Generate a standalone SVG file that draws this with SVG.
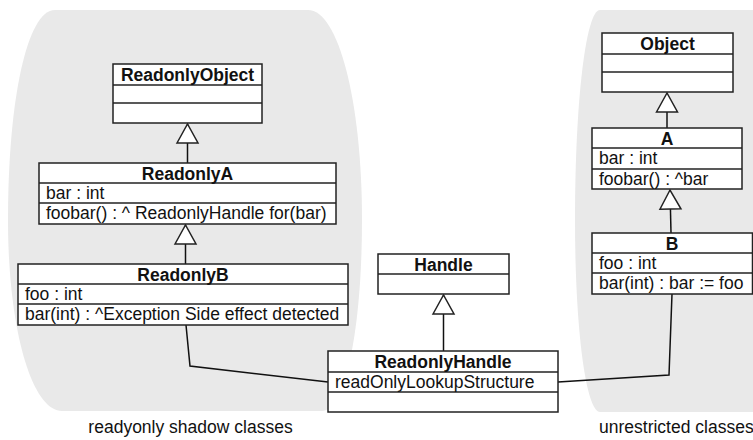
<svg xmlns="http://www.w3.org/2000/svg" width="753" height="440" viewBox="0 0 753 440">
<style>
.blob{fill:#e9e9e9;stroke:none}
.box{fill:#fff;stroke:#222;stroke-width:1.5}
.sep{stroke:#222;stroke-width:1.5}
.conn{fill:none;stroke:#111;stroke-width:1.5}
.hd{font-family:"Liberation Sans",Arial,Helvetica,sans-serif;font-size:17.5px;font-weight:bold;fill:#111;text-anchor:middle}
.tx{font-family:"Liberation Sans",Arial,Helvetica,sans-serif;font-size:17.5px;fill:#111}
.lbl{font-family:"Liberation Sans",Arial,Helvetica,sans-serif;font-size:17.5px;fill:#111}
</style>
<defs>
<marker id="gen" viewBox="0 0 19 21" refX="19" refY="10.5" markerWidth="19" markerHeight="21" markerUnits="userSpaceOnUse" orient="auto" overflow="visible">
<path d="M0,0 L19,10.5 L0,21 Z" fill="#fff" stroke="#222" stroke-width="1.5"/>
</marker>
</defs>

<g id="groups">
<path class="blob" d="M55,10 L308,10 C338,10 362,100 362,220 C362,330 345,411 322,411 L62,411 C32,411 8,330 8,220 C8,100 27,10 55,10 Z"/>
<path class="blob" d="M600,10 L760,10 L760,412 L600,412 C586,412 575,330 575,220 C575,100 586,10 600,10 Z"/>
<text class="lbl" x="190.5" y="433" text-anchor="middle">readyonly shadow classes</text>
<text class="lbl" x="599" y="433">unrestricted classes</text>
</g>

<g id="connectors">
<path class="conn" d="M187.5,163 L187.5,124" marker-end="url(#gen)"/>
<path class="conn" d="M185.5,264 L185.5,225" marker-end="url(#gen)"/>
<path class="conn" d="M443.5,351 L443.5,295" marker-end="url(#gen)"/>
<path class="conn" d="M667,128 L667,93" marker-end="url(#gen)"/>
<path class="conn" d="M671,233 L670,190" marker-end="url(#gen)"/>
<path class="conn" d="M186,325 L190,366 L328,382"/>
<path class="conn" d="M558,382 L669,375 L672,294"/>
</g>

<g id="ReadonlyObject">
<rect class="box" x="113" y="64" width="149" height="59"/>
<line class="sep" x1="113" y1="85" x2="262" y2="85"/>
<line class="sep" x1="113" y1="103" x2="262" y2="103"/>
<text class="hd" x="187.5" y="81">ReadonlyObject</text>
</g>

<g id="ReadonlyA">
<rect class="box" x="39" y="163" width="297" height="61"/>
<line class="sep" x1="39" y1="183" x2="336" y2="183"/>
<line class="sep" x1="39" y1="203" x2="336" y2="203"/>
<text class="hd" x="187.5" y="180">ReadonlyA</text>
<text class="tx" x="46" y="199">bar : int</text>
<text class="tx" x="46" y="219">foobar() : ^ ReadonlyHandle for(bar)</text>
</g>

<g id="ReadonlyB">
<rect class="box" x="18" y="264" width="330" height="61"/>
<line class="sep" x1="18" y1="284" x2="348" y2="284"/>
<line class="sep" x1="18" y1="304" x2="348" y2="304"/>
<text class="hd" x="183" y="281">ReadonlyB</text>
<text class="tx" x="25" y="300">foo : int</text>
<text class="tx" x="25" y="320">bar(int) : ^Exception Side effect detected</text>
</g>

<g id="Handle">
<rect class="box" x="378" y="254" width="131" height="40"/>
<line class="sep" x1="378" y1="274" x2="509" y2="274"/>
<text class="hd" x="443.5" y="271">Handle</text>
</g>

<g id="ReadonlyHandle">
<rect class="box" x="328" y="351" width="230" height="61"/>
<line class="sep" x1="328" y1="372" x2="558" y2="372"/>
<line class="sep" x1="328" y1="392" x2="558" y2="392"/>
<text class="hd" x="443" y="368">ReadonlyHandle</text>
<text class="tx" x="335" y="388">readOnlyLookupStructure</text>
</g>

<g id="Object">
<rect class="box" x="602" y="33" width="131" height="59"/>
<line class="sep" x1="602" y1="54" x2="733" y2="54"/>
<line class="sep" x1="602" y1="72" x2="733" y2="72"/>
<text class="hd" x="667.5" y="50">Object</text>
</g>

<g id="A">
<rect class="box" x="592" y="128" width="150" height="61"/>
<line class="sep" x1="592" y1="148" x2="742" y2="148"/>
<line class="sep" x1="592" y1="169" x2="742" y2="169"/>
<text class="hd" x="667" y="145">A</text>
<text class="tx" x="599" y="164">bar : int</text>
<text class="tx" x="599" y="185">foobar() : ^bar</text>
</g>

<g id="B">
<rect class="box" x="592" y="233" width="160.5" height="61"/>
<line class="sep" x1="592" y1="253" x2="752.5" y2="253"/>
<line class="sep" x1="592" y1="273" x2="752.5" y2="273"/>
<text class="hd" x="672" y="250">B</text>
<text class="tx" x="599" y="269">foo : int</text>
<text class="tx" x="599" y="289">bar(int) : bar := foo</text>
</g>
</svg>
